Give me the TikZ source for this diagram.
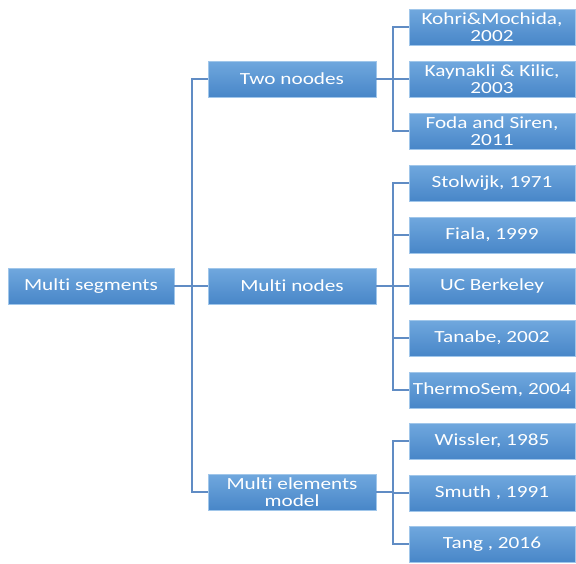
\documentclass[tikz,border=0pt]{standalone}
\usepackage{fontspec}
\setmainfont{Carlito}[FakeStretch=1.25,Ligatures=NoCommon]
\definecolor{boxtop}{RGB}{112,168,222}
\definecolor{boxbot}{RGB}{72,134,200}
\definecolor{boxrim}{RGB}{160,198,234}
\definecolor{linkblue}{RGB}{96,140,196}
\begin{document}
\begin{tikzpicture}[x=1pt,y=-1pt,
    box/.style={draw=boxrim, line width=0.6pt, top color=boxtop, bottom color=boxbot,
        text=white, font=\fontsize{17}{17}\selectfont, align=center,
        inner sep=0pt, minimum height=36pt},
    rootbox/.style={box, minimum width=166pt},
    midbox/.style={box, minimum width=168pt},
    leafbox/.style={box, minimum width=166pt},
    link/.style={draw=linkblue, line width=1.2pt}]
        %frame
            \useasboundingbox (0,0) rectangle (576,563);
        %root and middle level
            \node[rootbox] (root) at (91,286) {Multi segments};
            \node[midbox] (two) at (292,79) {Two noodes};
            \node[midbox] (multi) at (292,286) {Multi nodes};
            \node[midbox] (elem) at (292,492) {Multi elements\\model};
        %leaves
            \node[leafbox] (kohri) at (492,27) {Kohri\&Mochida,\\2002};
            \node[leafbox] (kaynakli) at (492,79) {Kaynakli \& Kilic,\\2003};
            \node[leafbox] (foda) at (492,131) {Foda and Siren,\\2011};
            \node[leafbox] (stolwijk) at (492,183) {Stolwijk, 1971};
            \node[leafbox] (fiala) at (492,235) {Fiala, 1999};
            \node[leafbox] (ucb) at (492,286) {UC Berkeley};
            \node[leafbox] (tanabe) at (492,338) {Tanabe, 2002};
            \node[leafbox] (thermo) at (492,390) {ThermoSem, 2004};
            \node[leafbox] (wissler) at (492,441) {Wissler, 1985};
            \node[leafbox] (smuth) at (492,493) {Smuth , 1991};
            \node[leafbox] (tang) at (492,544) {Tang , 2016};
        %junctions
            \coordinate (trunk) at (192,286);
            \coordinate (twoj) at (393,79);
            \coordinate (multij) at (393,286);
            \coordinate (elemj) at (393,492);
        %lines
            \draw[link] (root) -- (multi);
            \draw[link] (two.west) -| (trunk) |- (elem.west);
            \draw[link] (two) -- (twoj);
            \draw[link] (multi) -- (multij);
            \draw[link] (elem) -- (elemj);
            \foreach \l in {kohri,kaynakli,foda}
                \draw[link] (twoj) |- (\l.west);
            \foreach \l in {stolwijk,fiala,ucb,tanabe,thermo}
                \draw[link] (multij) |- (\l.west);
            \foreach \l in {wissler,smuth,tang}
                \draw[link] (elemj) |- (\l.west);
\end{tikzpicture}
\end{document}
